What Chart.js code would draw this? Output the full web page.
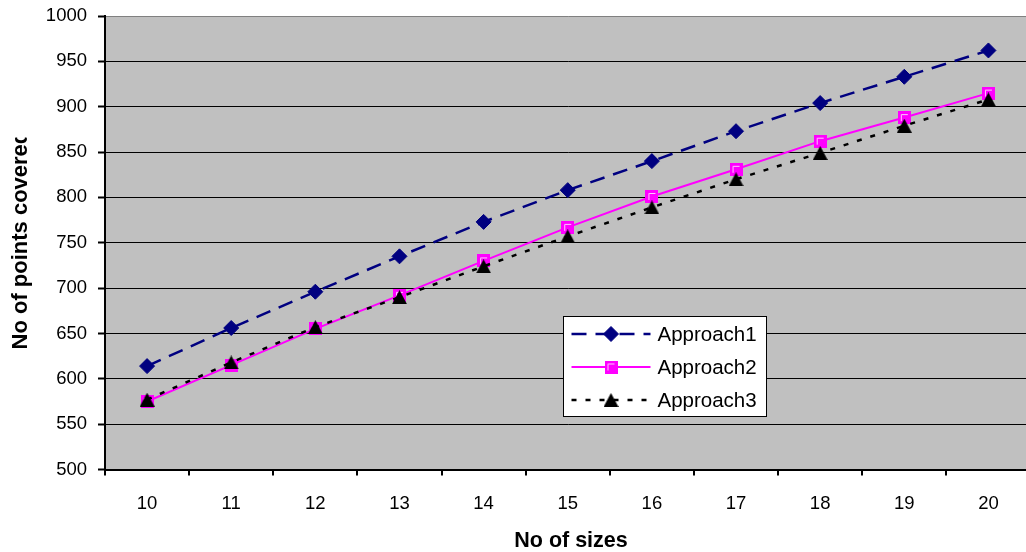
<!DOCTYPE html>
<html>
<head>
<meta charset="utf-8">
<script src="https://cdn.jsdelivr.net/npm/chart.js@4.4.1/dist/chart.umd.min.js"></script>
<style>
  html, body { margin: 0; padding: 0; background: #ffffff; overflow: hidden; }
  #wrap { width: 1026px; height: 552px; overflow: hidden; position: relative; }
  canvas { display: block; }
</style>
</head>
<body>
<div id="wrap"><canvas id="chart" width="1040" height="552"></canvas></div>
<script>
// ---- data ----
const sizes = ['10', '11', '12', '13', '14', '15', '16', '17', '18', '19', '20'];
const approach1 = [614, 656, 696, 735, 773, 808, 840, 873, 904, 933, 962];
const approach2 = [575, 615, 655, 692, 730, 767, 801, 831, 862, 888, 915];
const approach3 = [577, 618, 657, 690, 724, 757, 789, 820, 849, 879, 908];
const seriesNames = ['Approach1', 'Approach2', 'Approach3'];
const yMin = 500, yMax = 1000, yStep = 50;
const xTitle = 'No of sizes';
const yTitle = 'No of points covered';

const FONT = '"Liberation Sans", Arial, Helvetica, sans-serif';

// ---- marker images ----
function makeMarker(w, h, paint) {
  const c = document.createElement('canvas');
  c.width = w; c.height = h;
  paint(c.getContext('2d'), w, h);
  return c;
}
const squareMarker = makeMarker(13, 13, (g, w, h) => {
  g.fillStyle = '#FF00FF';
  g.fillRect(0, 0, w, h);
  g.strokeStyle = '#FFC8FF';
  g.lineWidth = 1;
  g.beginPath();
  g.moveTo(3.5, 10); g.lineTo(3.5, 3.5); g.lineTo(10, 3.5);
  g.stroke();
});
const triangleMarker = makeMarker(15, 14, (g, w, h) => {
  g.fillStyle = '#000000';
  g.beginPath();
  g.moveTo(w / 2, 0); g.lineTo(w, h); g.lineTo(0, h);
  g.closePath();
  g.fill();
});

// ---- plugins ----
const plotBackground = {
  id: 'plotBackground',
  beforeDraw(chart) {
    const { ctx, chartArea: a } = chart;
    ctx.save();
    ctx.fillStyle = '#C0C0C0';
    ctx.fillRect(a.left, a.top, a.right - a.left, a.bottom - a.top);
    ctx.restore();
  }
};

const axisTitles = {
  id: 'axisTitles',
  afterDraw(chart) {
    const { ctx } = chart;
    ctx.save();
    ctx.fillStyle = '#000000';
    ctx.font = 'bold 21.5px ' + FONT;
    // x title
    ctx.textAlign = 'center';
    ctx.textBaseline = 'middle';
    ctx.fillText(xTitle, 571, 541);
    // y title, cut off at its far end
    ctx.font = 'bold 22px ' + FONT;
    ctx.beginPath();
    ctx.rect(0, 137.5, 60, 552);
    ctx.clip();
    ctx.translate(27, 349.5);
    ctx.rotate(-Math.PI / 2);
    ctx.textAlign = 'left';
    ctx.textBaseline = 'alphabetic';
    ctx.fillText(yTitle, 0, 0);
    ctx.restore();
  }
};

const boxLegend = {
  id: 'boxLegend',
  afterDraw(chart) {
    const { ctx } = chart;
    const bx = 563.5, by = 316.5, bw = 203, bh = 100;
    ctx.save();
    ctx.fillStyle = '#FFFFFF';
    ctx.fillRect(bx, by, bw, bh);
    ctx.strokeStyle = '#000000';
    ctx.lineWidth = 1;
    ctx.strokeRect(bx, by, bw, bh);
    const rowsY = [334, 367, 400];
    chart.data.datasets.forEach((ds, i) => {
      const y = rowsY[i];
      ctx.save();
      ctx.strokeStyle = ds.borderColor;
      ctx.lineWidth = ds.borderWidth;
      ctx.setLineDash(ds.borderDash || []);
      ctx.beginPath();
      ctx.moveTo(571.5, y);
      ctx.lineTo(650.5, y);
      ctx.stroke();
      ctx.restore();
      ctx.save();
      ctx.fillStyle = ds.pointBackgroundColor;
      ctx.strokeStyle = ds.pointBorderColor;
      Chart.helpers.drawPoint(ctx, {
        pointStyle: ds.pointStyle,
        radius: ds.pointRadius,
        borderWidth: 1,
        rotation: 0
      }, 611, y);
      ctx.restore();
      ctx.fillStyle = '#000000';
      ctx.font = '20.5px ' + FONT;
      ctx.textAlign = 'left';
      ctx.textBaseline = 'middle';
      ctx.fillText(seriesNames[i], 657.5, y + 1);
    });
    ctx.restore();
  }
};

Chart.defaults.color = '#000000';
Chart.defaults.font.family = FONT;

new Chart(document.getElementById('chart'), {
  type: 'line',
  data: {
    labels: sizes,
    datasets: [
      {
        label: seriesNames[0],
        data: approach1,
        borderColor: '#000080',
        borderWidth: 2.5,
        borderDash: [15, 9],
        pointStyle: 'rectRot',
        pointRadius: 7.5,
        pointBackgroundColor: '#000080',
        pointBorderColor: '#000080',
        pointBorderWidth: 1,
        tension: 0,
        fill: false,
        order: 2
      },
      {
        label: seriesNames[1],
        data: approach2,
        borderColor: '#FF00FF',
        borderWidth: 2,
        pointStyle: squareMarker,
        pointRadius: 7,
        pointBackgroundColor: '#FF00FF',
        pointBorderColor: '#FF00FF',
        tension: 0,
        fill: false,
        order: 1
      },
      {
        label: seriesNames[2],
        data: approach3,
        borderColor: '#000000',
        borderWidth: 2.5,
        borderDash: [5, 9],
        pointStyle: triangleMarker,
        pointRadius: 7,
        pointBackgroundColor: '#000000',
        pointBorderColor: '#000000',
        tension: 0,
        fill: false,
        order: 0
      }
    ]
  },
  options: {
    responsive: false,
    animation: false,
    devicePixelRatio: 1,
    layout: { padding: { top: 16, right: 5.5, left: 0, bottom: 0 } },
    plugins: {
      legend: { display: false },
      tooltip: { enabled: false },
      title: { display: false }
    },
    scales: {
      x: {
        type: 'category',
        offset: true,
        grid: {
          offset: true,
          drawOnChartArea: false,
          drawTicks: true,
          tickLength: 6,
          color: '#000000',
          tickColor: '#000000',
          lineWidth: 2,
          tickWidth: 2
        },
        border: { display: true, color: '#000000', width: 2 },
        ticks: {
          font: { size: 18.5, family: FONT },
          color: '#000000',
          padding: 17,
          maxRotation: 0,
          autoSkip: false
        },
        afterFit(scale) {
          scale.height = 82.5;
          scale.paddingLeft = 0;
          scale.paddingRight = 0;
        }
      },
      y: {
        min: yMin,
        max: yMax,
        grid: {
          color: (c) => (c.tick && c.tick.value === yMax ? '#808080' : '#000000'),
          tickColor: '#000000',
          lineWidth: 1,
          tickWidth: 2,
          tickLength: 7
        },
        border: { display: true, color: '#000000', width: 2 },
        ticks: {
          stepSize: yStep,
          font: { size: 18.5, family: FONT },
          color: '#000000',
          padding: 11,
          callback: (v) => String(v)
        },
        afterFit(scale) {
          scale.width = 105;
          scale.paddingTop = 0;
          scale.paddingBottom = 0;
        }
      }
    }
  },
  plugins: [plotBackground, axisTitles, boxLegend]
});
</script>
</body>
</html>
